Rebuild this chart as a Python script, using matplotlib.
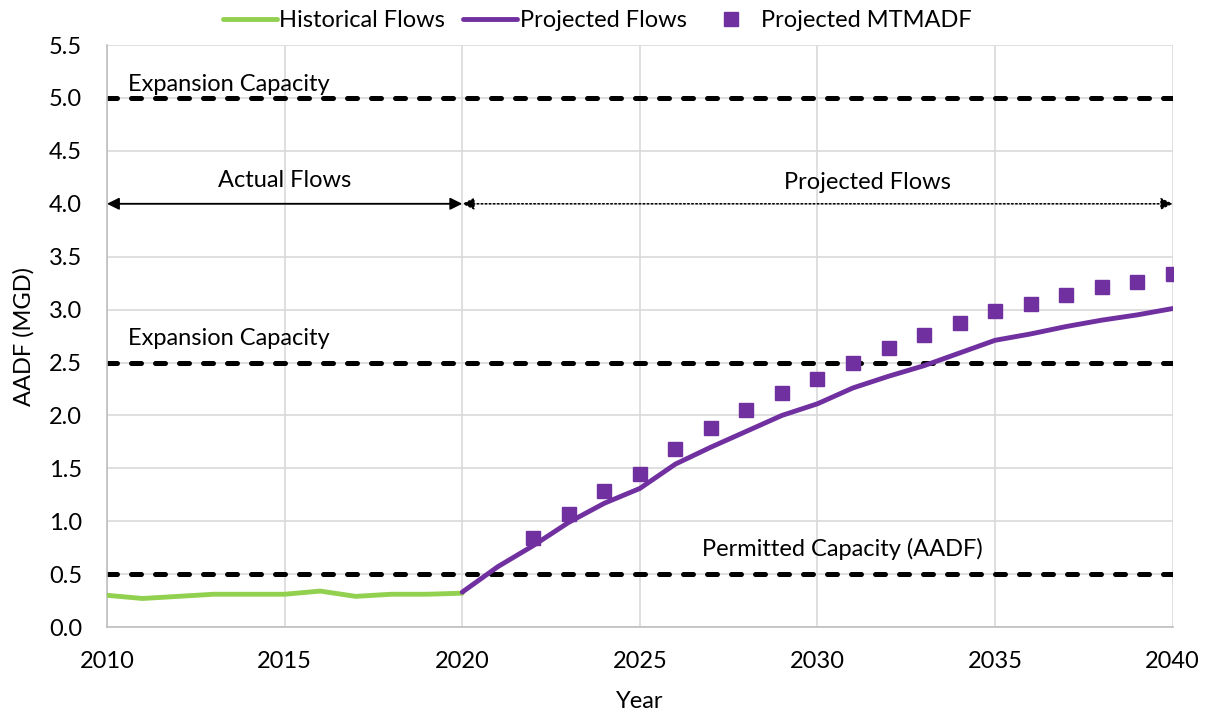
import matplotlib.pyplot as plt

hist_years = list(range(2010, 2021))
hist_flows = [0.30, 0.27, 0.29, 0.31, 0.31, 0.31, 0.34, 0.29, 0.31, 0.31, 0.32]

proj_years = list(range(2020, 2041))
proj_flows = [0.33, 0.57, 0.77, 0.99, 1.17, 1.31, 1.54, 1.70, 1.85, 2.00, 2.11,
              2.26, 2.37, 2.47, 2.59, 2.71, 2.77, 2.84, 2.90, 2.95, 3.01]

mtmadf_years = list(range(2022, 2041))
mtmadf = [0.84, 1.07, 1.29, 1.45, 1.68, 1.88, 2.05, 2.21, 2.34, 2.50, 2.64,
          2.76, 2.87, 2.99, 3.05, 3.14, 3.21, 3.26, 3.34]

capacity_levels = [5.0, 2.5, 0.5]
capacity_labels = ["Expansion Capacity", "Expansion Capacity", "Permitted Capacity (AADF)"]

plt.rcParams['font.family'] = ['Lato', 'DejaVu Sans']

fig = plt.figure(figsize=(12.09, 7.15), dpi=100)
ax = fig.add_axes([0.0885, 0.123, 0.8815, 0.814])

for lvl in capacity_levels:
    ax.axhline(lvl, color='black', lw=3.6, dashes=(2.0, 2.8),
               dash_capstyle='round', zorder=2)

ax.plot(hist_years, hist_flows, color='#92D050', lw=3.5, zorder=3,
        label='Historical Flows', solid_capstyle='round')
ax.plot(proj_years, proj_flows, color='#7030A0', lw=3.5, zorder=3,
        label='Projected Flows', solid_capstyle='round')
ax.plot(mtmadf_years, mtmadf, ls='none', marker='s', ms=9.5, color='#7030A0',
        zorder=4, label='Projected MTMADF')

# period arrows
ax.annotate('', xy=(2010, 4.0), xytext=(2020, 4.0),
            arrowprops=dict(arrowstyle='<|-|>', color='black', lw=1.3,
                            mutation_scale=18, shrinkA=0, shrinkB=0))
ax.annotate('', xy=(2020, 4.0), xytext=(2040, 4.0),
            arrowprops=dict(arrowstyle='<|-|>', color='black', lw=1.1, ls=':',
                            mutation_scale=18, shrinkA=0, shrinkB=0))

fs = 17
ax.text(2015, 4.22, 'Actual Flows', ha='center', va='center', fontsize=fs)
ax.text(2031.4, 4.2, 'Projected Flows', ha='center', va='center', fontsize=fs)
ax.text(2010.6, 5.13, capacity_labels[0], ha='left', va='center', fontsize=fs)
ax.text(2010.6, 2.73, capacity_labels[1], ha='left', va='center', fontsize=fs)
ax.text(2030.7, 0.74, capacity_labels[2], ha='center', va='center', fontsize=fs)

ax.set_xlim(2010, 2040)
ax.set_ylim(0, 5.5)
ax.set_xticks(range(2010, 2041, 5))
ax.set_yticks([i * 0.5 for i in range(12)])
ax.set_yticklabels([f'{i * 0.5:.1f}' for i in range(12)])
ax.tick_params(axis='x', length=0, labelsize=fs, pad=17)
ax.tick_params(axis='y', length=0, labelsize=fs, pad=18)
ax.grid(True, color='#D9D9D9', lw=1.2, zorder=0)
ax.set_axisbelow(True)
for side in ['top', 'right']:
    ax.spines[side].set_visible(False)
for side in ['left', 'bottom']:
    ax.spines[side].set_color('#BFBFBF')
    ax.spines[side].set_linewidth(1.2)

ax.set_xlabel('Year', fontsize=fs, labelpad=14)
ax.set_ylabel('AADF (MGD)', fontsize=fs, labelpad=10)

handles, labels = ax.get_legend_handles_labels()
fig.legend(handles, labels, loc='center', bbox_to_anchor=(0.494, 0.971), ncol=3,
           frameon=False, fontsize=fs, handlelength=2.3, handletextpad=0.1,
           columnspacing=0.75, borderaxespad=0.0)

fig.savefig('out.png', dpi=100)
